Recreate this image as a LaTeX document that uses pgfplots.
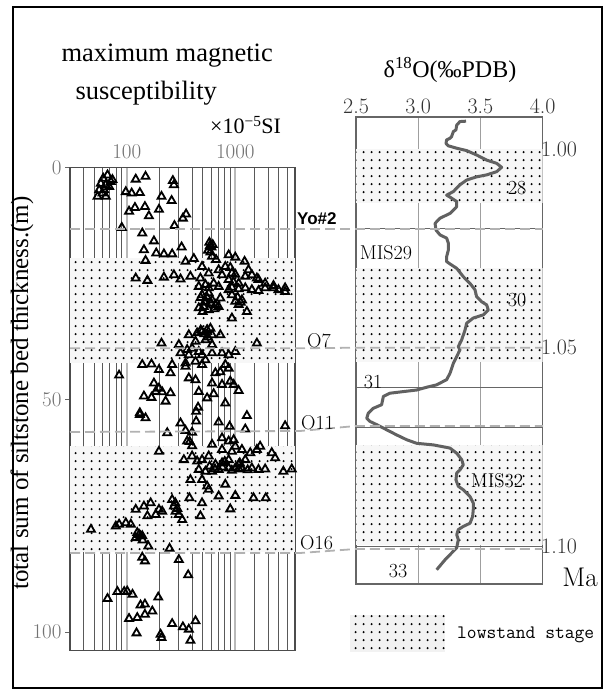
\documentclass[border=0pt]{standalone}
\usepackage{pgfplots}
\pgfplotsset{compat=1.18}
\usepackage{fontspec}
\newfontfamily\tnr{Liberation Serif}
\newfontfamily\ars{Liberation Sans}
\usetikzlibrary{patterns}
\pgfdeclarepatternformonly{lowdots}{\pgfqpoint{0pt}{0pt}}{\pgfqpoint{8pt}{8.3pt}}{\pgfqpoint{8pt}{8.3pt}}{\pgfpathcircle{\pgfqpoint{4pt}{4.15pt}}{1.25pt}\pgfusepath{fill}}
\newcommand\fs[1]{\fontsize{#1}{#1}\selectfont}

\begin{document}
\begin{tikzpicture}[x=1pt,y=1pt]
\useasboundingbox (0,0) rectangle (608,693);
\draw[line width=1.6pt] (13,5) rectangle (602,686);

% ---- left panel: maximum magnetic susceptibility vs. thickness
\begin{axis}[
  at={(70pt,42.3pt)}, anchor=south west,
  width=225pt, height=483pt, scale only axis,
  xmode=log, xmin=30, xmax=3550,
  ymin=0, ymax=104, y dir=reverse,
  xtick={100,1000}, xticklabels={100,1000},
  minor xtick={40,50,60,70,80,90,200,300,400,500,600,700,800,900,1500,2000,2500,3000},
  xticklabel pos=upper,
  xmajorgrids, xminorgrids,
  major grid style={gray!55, line width=1.6pt},
  minor grid style={black!65, line width=0.9pt},
  x tick style={draw=none},
  ytick={0,50,100}, yticklabels={0,50,100},
  ytick pos=left, tick align=outside, major tick length=5pt,
  y tick style={black!60, line width=1pt},
  axis line style={black!70, line width=1.5pt},
  ticklabel style={font=\fs{21}, text=black!55},
]
\fill[gray!6] (axis cs:30,19.5) rectangle (axis cs:3550,42);
\fill[gray!6] (axis cs:30,60) rectangle (axis cs:3550,82.8);
\fill[pattern=lowdots, pattern color=black] (axis cs:30,19.5) rectangle (axis cs:3550,42);
\fill[pattern=lowdots, pattern color=black] (axis cs:30,60) rectangle (axis cs:3550,82.8);
\addplot[only marks, mark=triangle, mark size=4.6pt,
  mark options={line width=1.8pt, draw=black, fill=none}] table {
x y
66.5 1.6
60.7 2.3
73.8 2.6
57.7 3.4
64.1 3.7
68.9 4.1
55.7 4.8
61.9 4.8
53.8 6.2
64.1 6.2
59.8 5.5
71.3 3.0
121 2.5
149 1.9
266 2.8
272 3.7
98 5.2
111 5.5
132 5.4
209 6.2
259 7.1
119 8.6
105 9.4
147 8.4
160 10.4
198 9.0
352 10.0
329 10.9
90 12.9
275 12.5
139 14.1
178 15.8
144 17.7
187 18.4
220 18.6
262 18.6
320 17.1
149 20.0
415 19.6
348 20.2
577 16.1
602 17.1
561 17.8
590 18.2
620 16.6
585 16.8
611 19.1
665 19.8
869 18.8
1000 19.3
1218 20.2
121 23.8
155 24.3
220 23.6
272 23.1
313 24.0
386 23.4
477 23.8
531 25.2
632 24.9
755 23.1
809 21.3
931 22.7
869 24.1
1074 24.9
1236 23.4
1422 23.1
1637 24.1
1884 24.9
2249 25.4
2877 25.9
494 21.3
703 22.0
569 22.7
1324 22.0
1581 23.8
900 21.5
1000 23.0
960 24.6
461 25.6
569 25.9
703 25.6
931 25.8
1074 26.1
1422 26.3
1637 26.5
1884 25.9
2249 25.9
2500 26.3
2877 26.7
869 26.3
1236 25.9
494 27.4
569 27.0
531 28.8
611 28.5
728 28.1
461 30.2
512 29.9
569 30.6
656 29.5
931 27.4
1000 28.8
1074 29.5
1151 28.5
1279 31.0
931 32.4
480 28.0
520 29.0
600 29.2
545 27.8
640 30.4
500 31.0
700 29.9
1050 27.9
1120 29.0
373 36.0
445 35.6
494 35.3
550 34.9
611 36.0
728 36.0
531 37.1
611 38.1
430 37.4
400 38.9
461 39.6
302 38.1
313 39.9
360 39.2
373 40.3
494 40.3
611 39.9
755 39.9
869 40.3
1000 39.6
1581 37.8
209 37.8
480 35.0
520 35.8
560 36.5
590 34.6
139 42.4
169 42.3
198 43.5
262 42.4
253 44.2
85 44.7
348 42.1
348 42.8
430 41.7
494 42.4
531 41.4
809 42.4
869 43.2
656 44.2
728 44.0
373 45.3
430 45.7
611 46.4
755 46.7
899 46.0
966 46.7
178 46.4
198 47.5
185 48.2
212 48.3
144 49.2
169 49.5
228 50.3
253 48.5
461 48.2
550 49.6
632 48.7
809 50.7
1074 48.0
454 51.6
132 52.8
132 53.2
149 53.9
313 55.0
436 54.6
436 52.5
703 54.8
887 55.7
1279 53.4
1236 56.3
2877 55.6
236 57.1
348 56.6
400 57.0
360 58.9
400 59.9
380 59.0
755 58.2
869 58.9
966 58.6
1000 60.0
611 59.6
755 60.7
931 61.1
1151 60.7
1374 61.4
1694 60.0
1581 60.7
2168 61.4
2328 62.5
198 61.1
336 62.9
400 62.1
445 63.2
494 62.9
569 62.1
656 63.9
755 63.6
869 62.9
1074 63.9
1236 62.9
1422 64.7
1637 65.0
1884 64.9
461 65.0
531 65.4
611 65.4
703 65.0
869 64.7
1000 64.7
1151 64.7
580 64.3
650 64.9
760 64.5
930 65.2
1080 64.9
1300 65.1
800 63.3
1100 63.6
2773 65.4
3311 64.9
386 67.2
494 67.2
550 68.6
569 69.3
809 68.2
378 71.1
703 70.7
1000 70.6
1472 71.1
1910 71.1
494 72.2
899 73.5
477 75.0
324 75.8
121 73.6
144 72.9
166 72.2
198 73.6
155 75.0
185 74.7
262 71.5
272 72.9
282 74.0
302 74.7
212 74.0
280 72.2
292 73.4
46.8 77.9
79.3 77.2
85 76.8
98 76.5
109 76.8
125 78.6
134 79.3
121 79.7
139 79.3
130 79.0
140 80.2
158 81.5
248 82.0
139 83.9
147 84.7
302 84.4
368 87.7
66.5 92.8
82 91.3
94.7 91.3
101 91.2
113 91.9
195 92.5
134 94.2
147 94.0
172 95.5
147 96.2
105 97.1
125 96.9
123 100.2
262 98.2
329 98.9
373 99.4
430 97.6
386 101.8
205 100.5
209 101.2
};
\end{axis}

% ---- right panel: delta 18O curve
\begin{axis}[
  at={(356pt,109pt)}, anchor=south west,
  width=186.7pt, height=467pt, scale only axis,
  xmin=2.5, xmax=4.0, ymin=0.99195, ymax=1.10938, y dir=reverse,
  xtick={2.5,3.0,3.5,4.0}, xticklabels={2.5,3.0,3.5,4.0},
  xticklabel pos=upper,
  ytick={1.00,1.05,1.10}, yticklabels={1.00,1.05,1.10},
  minor ytick={1.01,1.02,1.03,1.04,1.06,1.07,1.08,1.09},
  yticklabel pos=right,
  xmajorgrids, ymajorgrids, yminorgrids,
  x grid style={gray!75, line width=1.2pt},
  y grid style={black!60, line width=1pt},
  tick style={draw=none},
  axis line style={gray!80!black, line width=1.5pt},
  ticklabel style={font=\fs{22}, text=black!80},
  yticklabel style={xshift=-5pt},
]
\fill[gray!6] (axis cs:2.5,1.0000) rectangle (axis cs:4.0,1.0135);
\fill[gray!6] (axis cs:2.5,1.0300) rectangle (axis cs:4.0,1.0535);
\fill[gray!6] (axis cs:2.5,1.0745) rectangle (axis cs:4.0,1.0995);
\fill[pattern=lowdots, pattern color=black] (axis cs:2.5,1.0000) rectangle (axis cs:4.0,1.0135);
\fill[pattern=lowdots, pattern color=black] (axis cs:2.5,1.0300) rectangle (axis cs:4.0,1.0535);
\fill[pattern=lowdots, pattern color=black] (axis cs:2.5,1.0745) rectangle (axis cs:4.0,1.0995);
\addplot[no marks, line width=3pt, color=black!62, line join=round] table {
x y
3.384 0.9930
3.335 0.9931
3.309 0.9940
3.303 0.9952
3.282 0.9956
3.268 0.9969
3.255 0.9973
3.228 0.9977
3.223 0.9986
3.242 0.9992
3.309 0.9998
3.389 1.0004
3.469 1.0015
3.550 1.0028
3.630 1.0036
3.670 1.0046
3.630 1.0057
3.550 1.0065
3.469 1.0070
3.389 1.0078
3.335 1.0090
3.282 1.0107
3.228 1.0116
3.255 1.0121
3.309 1.0132
3.309 1.0145
3.255 1.0162
3.175 1.0174
3.135 1.0187
3.143 1.0204
3.175 1.0216
3.228 1.0224
3.242 1.0237
3.242 1.0254
3.228 1.0271
3.228 1.0283
3.255 1.0289
3.309 1.0300
3.362 1.0321
3.416 1.0338
3.456 1.0354
3.469 1.0371
3.509 1.0384
3.550 1.0392
3.563 1.0405
3.523 1.0417
3.442 1.0425
3.389 1.0438
3.376 1.0455
3.349 1.0480
3.322 1.0497
3.335 1.0505
3.309 1.0522
3.282 1.0539
3.255 1.0564
3.228 1.0580
3.148 1.0593
3.068 1.0599
2.987 1.0606
2.880 1.0610
2.773 1.0614
2.720 1.0622
2.706 1.0643
2.639 1.0652
2.599 1.0664
2.586 1.0677
2.612 1.0685
2.666 1.0693
2.746 1.0706
2.827 1.0719
2.907 1.0731
2.987 1.0740
3.121 1.0744
3.255 1.0752
3.309 1.0765
3.349 1.0781
3.362 1.0794
3.335 1.0807
3.309 1.0815
3.303 1.0832
3.322 1.0848
3.362 1.0857
3.416 1.0874
3.442 1.0890
3.442 1.0907
3.437 1.0924
3.416 1.0941
3.362 1.0949
3.322 1.0957
3.309 1.0970
3.322 1.0982
3.309 1.1003
3.255 1.1020
3.215 1.1033
3.148 1.1058
};
\end{axis}

% ---- correlation lines
\begin{scope}[gray!60, line width=1.8pt, dash pattern=on 10pt off 5pt]
\draw (70,464) -- (543,464);
\draw (70,344.7) -- (300,344.7) -- (356,345.3) -- (543,345.3);
\draw (70,261) -- (300,262) -- (356,267) -- (543,267);
\draw (70,140) -- (300,140) -- (356,144) -- (543,144);
\end{scope}

% ---- texts
\node[anchor=base west, font=\tnr\fs{26.5}] at (58,631.3) {maximum magnetic};
\node[anchor=base west, font=\tnr\fs{26.5}] at (72,593.7) {susceptibility};
\node[anchor=base west, font=\tnr\fs{22}, inner sep=0pt] at (210,559) {×10\textsuperscript{−5}SI};
\node[anchor=base, font=\tnr\fs{24}] at (450,615) {δ\textsuperscript{18}O(‰PDB)};
\node[rotate=90, font=\tnr\fs{25}] at (22,300) {total sum of siltstone bed thickness.(m)};

\node[anchor=base west, font=\ars\bfseries\fs{17}, inner sep=0pt] at (297,468) {Yo\#2};
\node[anchor=base west, font=\fs{20}, inner sep=0pt] at (307,345) {O7};
\node[anchor=base west, font=\fs{20}, inner sep=0pt] at (301,263) {O11};
\node[anchor=base west, font=\fs{20}, inner sep=0pt] at (300,143) {O16};

\node[font=\fs{20}] at (517,505) {28};
\node[font=\fs{20}] at (386,440) {MIS29};
\node[font=\fs{20}] at (517,393) {30};
\node[font=\fs{20}] at (373,311) {31};
\node[font=\fs{20}] at (497,212) {MIS32};
\node[font=\fs{20}] at (398,122) {33};
\node[font=\fs{27}] at (580,116) {Ma};

\fill[gray!10] (350,41) rectangle (445,78);
\fill[pattern=lowdots, pattern color=black] (350,41) rectangle (445,78);
\node[anchor=west, font=\ttfamily\fs{19}, inner sep=0pt] at (457,58) {lowstand stage};
\end{tikzpicture}
\end{document}
